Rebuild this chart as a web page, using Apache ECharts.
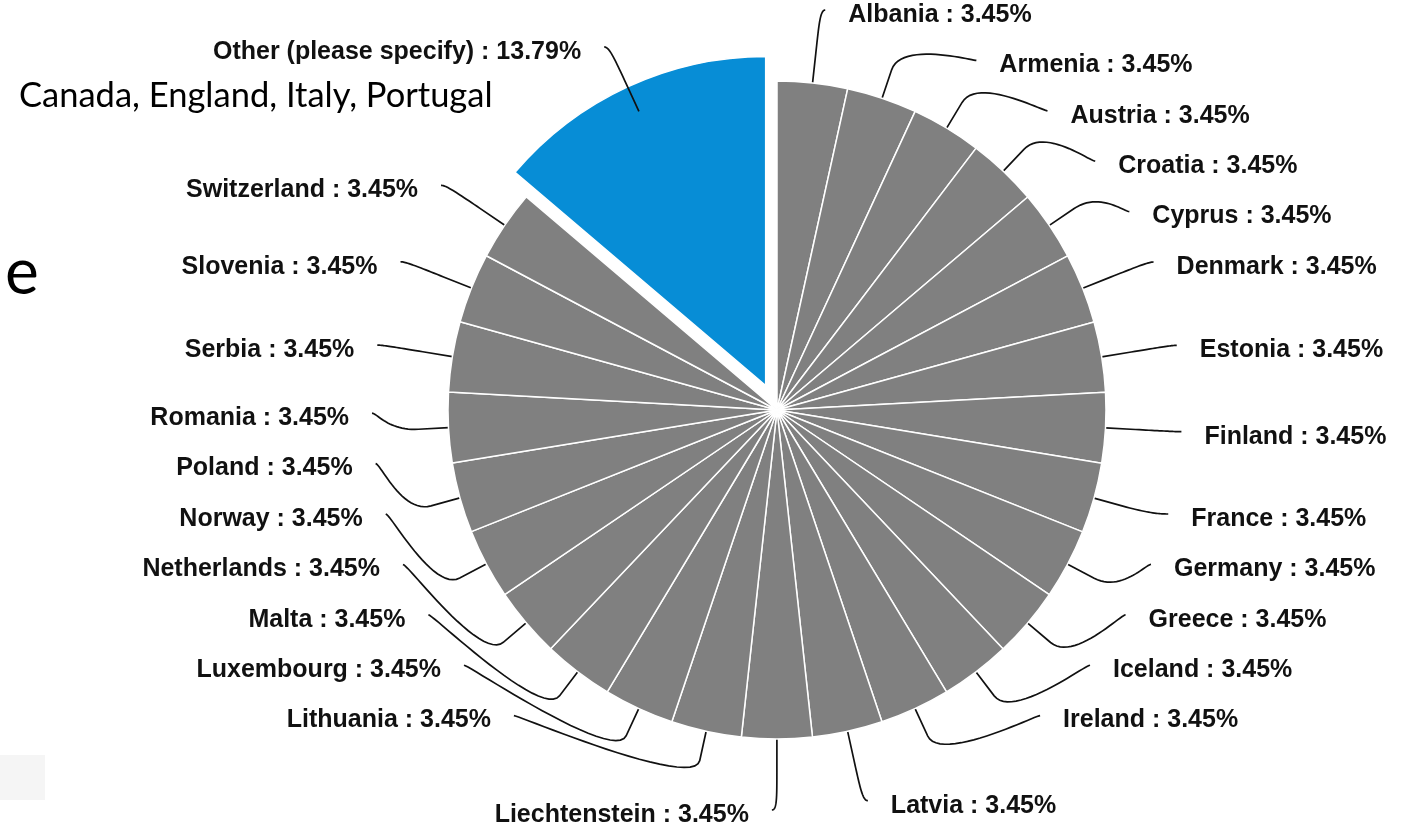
<!DOCTYPE html>
<html>
<head>
<meta charset="utf-8">
<script src="https://cdn.jsdelivr.net/npm/echarts@6/dist/echarts.min.js"></script>
<style>
html,body{margin:0;padding:0;background:#fff;}
#chart{width:1421px;height:825px;}
</style>
</head>
<body>
<div id="chart"></div>
<script>
// ---------------- data ----------------
const categories = ['Albania', 'Armenia', 'Austria', 'Croatia', 'Cyprus', 'Denmark', 'Estonia', 'Finland', 'France', 'Germany', 'Greece', 'Iceland', 'Ireland', 'Latvia', 'Liechtenstein', 'Lithuania', 'Luxembourg', 'Malta', 'Netherlands', 'Norway', 'Poland', 'Romania', 'Serbia', 'Slovenia', 'Switzerland', 'Other (please specify)'];
const percentages = [3.45, 3.45, 3.45, 3.45, 3.45, 3.45, 3.45, 3.45, 3.45, 3.45, 3.45, 3.45, 3.45, 3.45, 3.45, 3.45, 3.45, 3.45, 3.45, 3.45, 3.45, 3.45, 3.45, 3.45, 3.45, 13.79];
const highlighted = 'Other (please specify)';
const otherNote = 'Canada, England, Italy, Portugal';

// ---------------- style / geometry settings ----------------
const W = 1421, H = 825;
const CX = 777, CY = 410, RADIUS = 329;
const EXPLODE = 27;            // pull-out distance of the highlighted slice
const LABEL_DISTANCE = 71;     // label ring = RADIUS + LABEL_DISTANCE
const SLOT_HEIGHT = 50.4;      // vertical slot per label
const CONNECTOR_PADDING = 28;  // gap between connector end and label
const BREAK_OFFSET = 30;       // straight radial part of connector
const LABEL_DY = 5;            // label centre below connector end
const GRAY = '#808080';
const BLUE = '#078dd6';
const CLEAR = 'rgba(0,0,0,0)';

const hiIndex = categories.indexOf(highlighted);

// main pie: every slice except the highlighted one (kept as an empty gap)
const mainData = categories.map((name, i) => ({
  name: name,
  value: percentages[i],
  itemStyle: i === hiIndex ? { color: CLEAR, borderColor: CLEAR, borderWidth: 0 } : { color: GRAY }
}));
// overlay pie: same values, only the highlighted slice painted (drawn pulled out)
const explodedData = categories.map((name, i) => ({
  name: name,
  value: percentages[i],
  itemStyle: i === hiIndex ? { color: BLUE } : { color: CLEAR, borderColor: CLEAR, borderWidth: 0 }
}));

const chart = echarts.init(document.getElementById('chart'), null, { renderer: 'canvas', width: W, height: H });

const captured = [];
function captureLayout(p) {
  if (p.labelLinePoints) captured[p.dataIndex] = p.labelLinePoints.map(q => [q[0], q[1]]);
  return {};
}

chart.setOption({
  animation: false,
  backgroundColor: '#ffffff',
  graphic: [
    { type: 'rect', left: 0, top: 755, shape: { width: 45, height: 45 }, style: { fill: '#f5f5f5' }, silent: true },
    { type: 'text', left: 19, top: 78, style: { text: otherNote, font: '34.5px Lato, "Open Sans", sans-serif', fill: '#000' } },
    { type: 'text', left: 5, top: 241, style: { text: 'e', font: '64px Lato, "Open Sans", sans-serif', fill: '#000' } }
  ],
  series: [{
    type: 'pie',
    z: 3,
    center: [CX, CY],
    radius: [0, RADIUS],
    startAngle: 90,
    clockwise: true,
    avoidLabelOverlap: false,
    itemStyle: { borderColor: '#ffffff', borderWidth: 1.5 },
    emphasis: { disabled: true },
    label: {
      show: true,
      position: 'outside',
      formatter: '{b} : {c}%',
      fontFamily: '"Liberation Sans", Arial, sans-serif',
      fontWeight: 'bold',
      fontSize: 25,
      color: '#111111',
      overflow: 'none'
    },
    labelLine: {
      show: true,
      length: 8,
      length2: 8,
      smooth: false,
      minTurnAngle: 0,
      lineStyle: { color: '#111111', width: 1.7 }
    },
    labelLayout: captureLayout,
    data: mainData
  }]
});

// ---------- slot-based label distribution from the pie's own label geometry ----------
function cubic(p0, p1, p2, p3, t) {
  const u = 1 - t;
  return [
    u*u*u*p0[0] + 3*u*u*t*p1[0] + 3*u*t*t*p2[0] + t*t*t*p3[0],
    u*u*u*p0[1] + 3*u*u*t*p1[1] + 3*u*t*t*p2[1] + t*t*t*p3[1]
  ];
}

const dirs = [];
function computeLayouts() {
  const R = RADIUS + LABEL_DISTANCE;
  const items = [];
  captured.forEach((pts, i) => {
    if (!pts) return;
    const ang = Math.atan2(pts[1][1] - pts[0][1], pts[1][0] - pts[0][0]);
    const c = Math.cos(ang), s = Math.sin(ang);
    dirs[i] = [c, s];
    items.push({
      i: i, c: c, s: s,
      half: c < 0 ? 1 : 0,
      naturalY: CY + R * s,
      E: [CX + RADIUS * c, CY + RADIUS * s],
      B: [CX + (RADIUS + BREAK_OFFSET) * c, CY + (RADIUS + BREAK_OFFSET) * s]
    });
  });
  const result = [];
  const top = Math.max(0, CY - R), bottom = Math.min(CY + R, H);
  [0, 1].forEach(half => {
    const pts = items.filter(it => it.half === half).sort((a, b) => a.naturalY - b.naturalY);
    const len = pts.length;
    if (!len) return;
    const slots = [];
    for (let pos = top; pos <= bottom; pos += SLOT_HEIGHT) slots.push(pos);
    const n = slots.length;
    const used = [];
    pts.forEach((p, j) => {
      let closest = 1e9, slotIndex = 0;
      for (let k = 0; k < n; k++) {
        const d = Math.abs(slots[k] - p.naturalY);
        if (d < closest) { closest = d; slotIndex = k; }
      }
      if (slotIndex < j && slots[j] !== null) {
        slotIndex = j;
      } else if (n < len - j + slotIndex) {
        slotIndex = n - len + j;
        while (slotIndex < n && slots[slotIndex] === null) slotIndex++;
      } else {
        while (slotIndex < n && slots[slotIndex] === null) slotIndex++;
      }
      if (slotIndex >= n) { slotIndex = n - 1; while (slotIndex > 0 && slots[slotIndex] === null) slotIndex--; }
      used.push({ i: slotIndex, y: slots[slotIndex] });
      slots[slotIndex] = null;
    });
    used.sort((a, b) => b.y - a.y);
    const dir = half ? -1 : 1;
    pts.forEach(p => {
      const slot = used.pop();
      let y = slot.y;
      if ((p.naturalY > y && slots[slot.i + 1] !== null) || (p.naturalY < y && slots[slot.i - 1] !== null)) {
        y = Math.min(Math.max(0, p.naturalY), H);
      }
      const yForX = (Math.abs(y - (CY - R)) < 1e-6 || Math.abs(y - (CY + R)) < 1e-6) ? p.naturalY : y;
      const xConn = CX + dir * Math.cos(Math.asin(Math.max(Math.min((yForX - CY) / R, 1), -1))) * R;
      const P0 = [xConn + 5 * dir, y];
      const P1 = [xConn, y];
      const P2 = [2 * p.B[0] - p.E[0], 2 * p.B[1] - p.E[1]];
      const P3 = p.B;
      const line = [p.E.slice()];
      const steps = 24;
      for (let k = steps; k >= 0; k--) line.push(cubic(P0, P1, P2, P3, k / steps));
      result[p.i] = {
        x: xConn + dir * CONNECTOR_PADDING,
        y: y + LABEL_DY,
        align: half ? 'right' : 'left',
        points: line
      };
    });
  });
  return result;
}

const layouts = computeLayouts();
const hiDir = dirs[hiIndex] || [0, -1];

chart.setOption({
  series: [{
    labelLayout: function (p) {
      const L = layouts[p.dataIndex];
      if (!L) return {};
      return { x: L.x, y: L.y, align: L.align, verticalAlign: 'middle', labelLinePoints: L.points };
    }
  }, {
    type: 'pie',
    z: 1,
    silent: true,
    center: [CX + EXPLODE * hiDir[0], CY + EXPLODE * hiDir[1]],
    radius: [0, RADIUS],
    startAngle: 90,
    clockwise: true,
    itemStyle: { borderColor: '#ffffff', borderWidth: 1.5 },
    emphasis: { disabled: true },
    label: { show: false },
    labelLine: { show: false },
    data: explodedData
  }]
});
</script>
</body>
</html>
